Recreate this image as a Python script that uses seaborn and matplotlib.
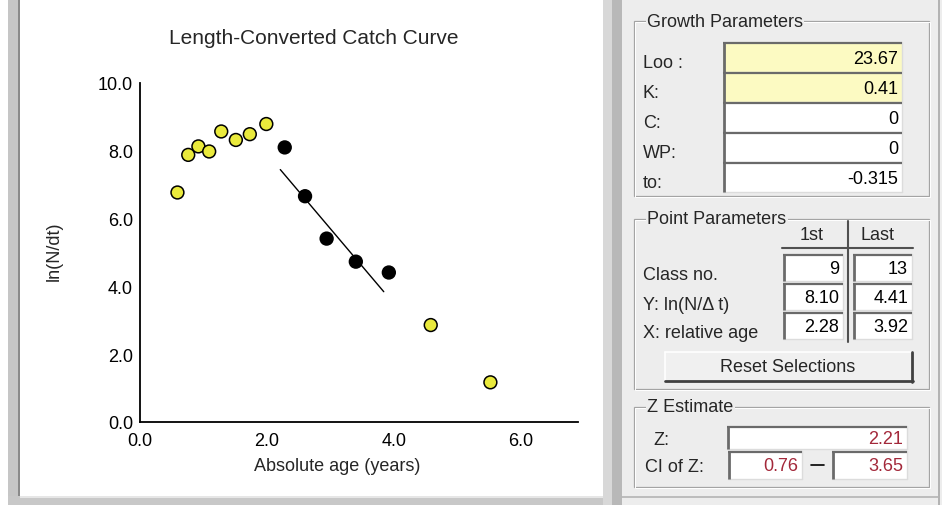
import matplotlib
matplotlib.use('Agg')
import matplotlib.pyplot as plt
import seaborn as sns
import pandas as pd
from matplotlib.patches import Rectangle
from matplotlib.ticker import FormatStrFormatter

# catch curve points: absolute age (years) vs ln(N/dt), one per length class
age = [0.59, 0.76, 0.92, 1.09, 1.28, 1.51, 1.73, 1.99, 2.28, 2.60, 2.94, 3.40, 3.92, 4.58, 5.52]
ln_ndt = [6.77, 7.88, 8.13, 7.98, 8.57, 8.32, 8.49, 8.79, 8.10, 6.66, 5.41, 4.73, 4.41, 2.86, 1.17]
class_no = list(range(1, len(age) + 1))
first_class, last_class = 9, 13

# regression line as drawn by the program (slope = -Z)
z_est = 2.21
fit_intercept = 12.33
fit_age = [2.21, 3.84]

growth_labels = ['Loo :', 'K:', 'C:', 'WP:', 'to:']
growth_values = ['23.67', '0.41', '0', '0', '-0.315']
point_labels = ['Class no.', 'Y: ln(N/\u0394 t)', 'X: relative age']
first_values = ['9', '8.10', '2.28']
last_values = ['13', '4.41', '3.92']
ci_low, ci_high = '0.76', '3.65'

sns.set_style('white')
plt.rcParams['font.family'] = ['Liberation Sans', 'DejaVu Sans']

panel_bg = '#EDEDED'
dark = '#6A6A6A'
red = '#A3283A'

fig = plt.figure(figsize=(9.42, 5.06), dpi=100)
fig.patch.set_facecolor(panel_bg)

# background canvas in pixel units (y down) for the dialog chrome
bg = fig.add_axes([0, 0, 1, 1])
bg.set_xlim(0, 942)
bg.set_ylim(506, 0)
bg.axis('off')

# left window frame
bg.add_patch(Rectangle((0, 0), 605, 506, fc='white', ec='none'))
bg.add_patch(Rectangle((8, 0), 12, 506, fc='#C6C6C6', ec='none'))
bg.add_patch(Rectangle((18, 0), 2, 497, fc='#8A8A8A', ec='none'))
bg.add_patch(Rectangle((8, 497), 597, 9, fc='#C8C8C8', ec='none'))
bg.add_patch(Rectangle((20, 497), 585, 2, fc='#E6E6E6', ec='none'))
# splitter
bg.add_patch(Rectangle((603, 0), 9, 506, fc='#D8D8D8', ec='none'))
bg.add_patch(Rectangle((612, 0), 10, 506, fc='#B8B8B8', ec='none'))
bg.plot([939, 939], [0, 506], color='#A8A8A8', lw=1.2)
bg.plot([622, 939], [498, 498], color='#B4B4B4', lw=1.2)


def group_box(x0, y0, x1, y1, title):
    bg.add_patch(Rectangle((x0, y0), x1 - x0, y1 - y0, fill=False, ec='#A4A4A4', lw=0.9))
    bg.add_patch(Rectangle((x0 + 1.3, y0 + 1.3), x1 - x0, y1 - y0, fill=False, ec='white', lw=0.7))
    bg.text(x0 + 13, y0, title, ha='left', va='center', fontsize=13,
            bbox=dict(fc=panel_bg, ec='none', pad=1))


def field(x0, y0, x1, y1, text='', fc='white', color='black'):
    bg.add_patch(Rectangle((x0, y0), x1 - x0, y1 - y0, fc=fc, ec='none'))
    bg.plot([x1, x1], [y0, y1], color='#DCDCDC', lw=1)
    bg.plot([x0, x1], [y1, y1], color='#DCDCDC', lw=1)
    bg.plot([x0, x1], [y0 + 1, y0 + 1], color=dark, lw=1.6, solid_capstyle='butt')
    bg.plot([x0 + 1, x0 + 1], [y0, y1], color=dark, lw=2.0, solid_capstyle='butt')
    bg.text(x1 - 4, (y0 + y1) / 2 + 1, text, ha='right', va='center', fontsize=13, color=color)


# Growth Parameters
group_box(634, 22, 929, 197, 'Growth Parameters')
for i, (lab, val) in enumerate(zip(growth_labels, growth_values)):
    top = 43 + 30 * i
    field(723, top, 902, top + 30, val, fc='#FCFAC2' if i < 2 else 'white')
    bg.text(643, top + 20, lab, ha='left', va='center', fontsize=13)

# Point Parameters
group_box(634, 220, 929, 390, 'Point Parameters')
bg.text(812, 235, '1st', ha='center', va='center', fontsize=13)
bg.text(878, 235, 'Last', ha='center', va='center', fontsize=13)
bg.plot([848, 848], [222, 343], color='#505050', lw=1.5)
bg.plot([782, 913], [249, 249], color='#505050', lw=1.5)
for i, lab in enumerate(point_labels):
    top = 255 + 29 * i
    field(783, top, 843, top + 27, first_values[i])
    field(853, top, 912, top + 27, last_values[i])
    bg.text(643, top + 21, lab, ha='left', va='center', fontsize=13)

# Reset button
bg.add_patch(Rectangle((665, 353), 247, 29, fc='#F0F0F0', ec='none'))
bg.plot([665, 912], [353, 353], color='white', lw=1.2)
bg.plot([665, 665], [353, 382], color='white', lw=1.2)
bg.plot([665, 913], [382, 382], color='#404040', lw=2)
bg.plot([912, 912], [353, 383], color='#404040', lw=2)
bg.text(788, 367, 'Reset Selections', ha='center', va='center', fontsize=13)

# Z Estimate
group_box(634, 408, 929, 488, 'Z Estimate')
bg.text(653, 441, 'Z:', ha='left', va='center', fontsize=13)
field(727, 427, 907, 450, f'{z_est:.2f}', color=red)
bg.text(645, 468, 'CI of Z:', ha='left', va='center', fontsize=13)
field(728, 452, 802, 480, ci_low, color=red)
bg.plot([811, 824], [466, 466], color='black', lw=1.2)
field(832, 452, 907, 480, ci_high, color=red)

# ---- catch curve plot ----
df = pd.DataFrame({'age': age, 'ln_ndt': ln_ndt, 'class_no': class_no})
df['selected'] = df['class_no'].between(first_class, last_class)
fit = pd.DataFrame({'age': fit_age})
fit['ln_ndt'] = fit_intercept - z_est * fit['age']

ax = fig.add_axes([140 / 942, 1 - 423 / 506, 438 / 942, 339 / 506])
ax.set_facecolor('white')
sns.lineplot(data=fit, x='age', y='ln_ndt', color='black', lw=1.0, ax=ax)
sns.scatterplot(data=df, x='age', y='ln_ndt', hue='selected',
                palette={False: '#EAEA3C', True: 'black'}, s=85,
                edgecolor='black', linewidth=1.1, legend=False, ax=ax, zorder=3)

ax.set_xlim(0, 6.9)
ax.set_ylim(0, 10)
ax.set_xticks([0, 2, 4, 6])
ax.set_yticks([0, 2, 4, 6, 8, 10])
ax.xaxis.set_major_formatter(FormatStrFormatter('%.1f'))
ax.yaxis.set_major_formatter(FormatStrFormatter('%.1f'))
ax.tick_params(direction='in', length=8, width=1.2, labelsize=13, colors='black')
ax.tick_params(axis='x', pad=7)
ax.tick_params(axis='y', pad=5)
for side in ['top', 'right']:
    ax.spines[side].set_visible(False)
for side in ['left', 'bottom']:
    ax.spines[side].set_color('black')
    ax.spines[side].set_linewidth(1.3)

ax.set_title('Length-Converted Catch Curve', fontsize=15, x=(314 - 140) / 438, y=(423 - 38) / 339,
             va='center', pad=0)
ax.set_xlabel('Absolute age (years)', fontsize=13)
ax.xaxis.set_label_coords((337 - 140) / 438, -(458 - 423) / 339)
ax.set_ylabel('ln(N/dt)', fontsize=13)
ax.yaxis.set_label_coords(-(140 - 63) / 438, (423 - 251) / 339)

fig.savefig('out.png', dpi=100, facecolor=fig.get_facecolor())
